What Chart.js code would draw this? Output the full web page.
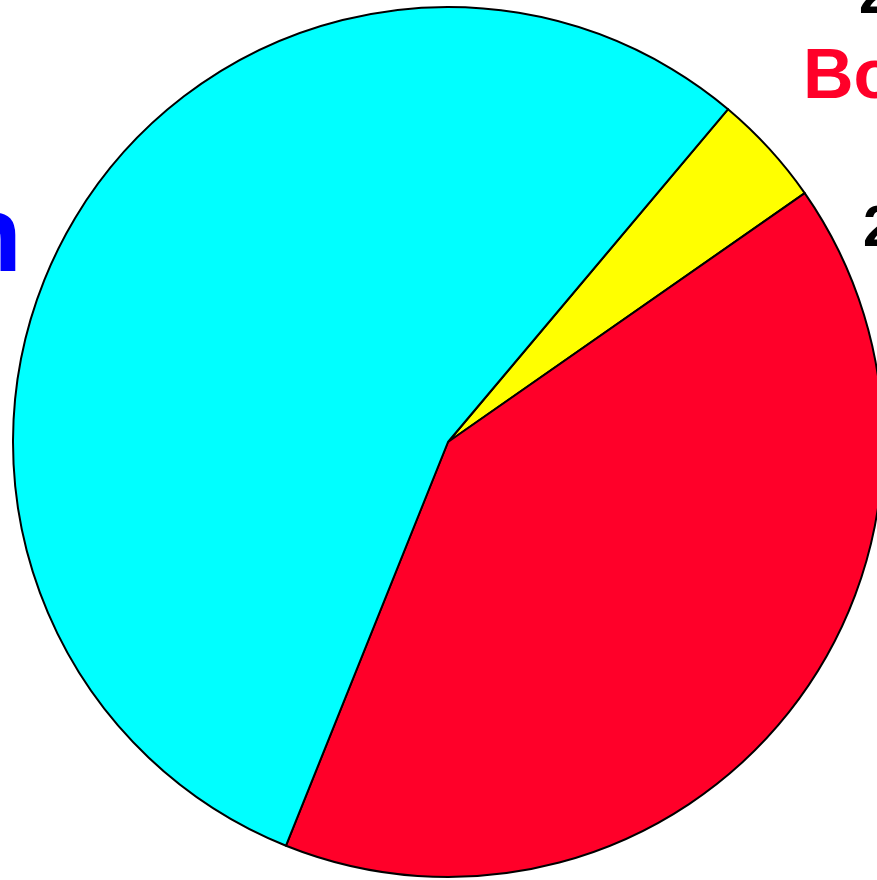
<!DOCTYPE html>
<html>
<head>
<meta charset="utf-8">
<script src="https://cdn.jsdelivr.net/npm/chart.js@4/dist/chart.umd.min.js"></script>
<style>
  html, body { margin: 0; padding: 0; background: #fff; overflow: hidden; }
  #wrap { position: absolute; left: 0; top: 0; width: 894px; height: 880px; }
</style>
</head>
<body>
<div id="wrap"><canvas id="c" width="894" height="880"></canvas></div>
<script>
// slices, clockwise starting from the yellow one
const categories = ['Other', 'Bolivia', 'Brazilian'];
const shares = [4.17, 40.77, 55.06];
const sliceColors = ['#ffff00', '#ff0029', '#00ffff'];

// text sitting outside the (cropped) pie
const outerLabels = [
  { text: '2.1 %', color: '#000', font: 'bold 57px "Liberation Sans"', dx: 411, dy: -429 },
  { text: 'Bolivia', color: '#ff0029', font: 'bold 70px "Liberation Sans"', dx: 355, dy: -344 },
  { text: '2.1 %', color: '#000', font: 'bold 57px "Liberation Sans"', dx: 415, dy: -196 },
  { text: 'Brazilian', color: '#0000ff', font: 'bold 108px "Liberation Sans"', dx: -426, dy: -171, align: 'right' }
];

const labelPlugin = {
  id: 'outerLabels',
  afterDraw(chart) {
    const arc = chart.getDatasetMeta(0).data[0];
    const ctx = chart.ctx;
    ctx.save();
    ctx.textBaseline = 'alphabetic';
    outerLabels.forEach(l => {
      ctx.font = l.font;
      ctx.fillStyle = l.color;
      ctx.textAlign = l.align || 'left';
      ctx.fillText(l.text, arc.x + l.dx, arc.y + l.dy);
    });
    ctx.restore();
  }
};

new Chart(document.getElementById('c'), {
  type: 'pie',
  data: {
    labels: categories,
    datasets: [{
      data: shares,
      backgroundColor: sliceColors,
      borderColor: '#000',
      borderWidth: 2,
      borderJoinStyle: 'round'
    }]
  },
  options: {
    responsive: false,
    animation: false,
    rotation: 40.08,
    layout: { padding: { left: 12, right: 10, top: 6, bottom: 2 } },
    plugins: {
      legend: { display: false },
      tooltip: { enabled: false }
    }
  },
  plugins: [labelPlugin]
});
</script>
</body>
</html>
